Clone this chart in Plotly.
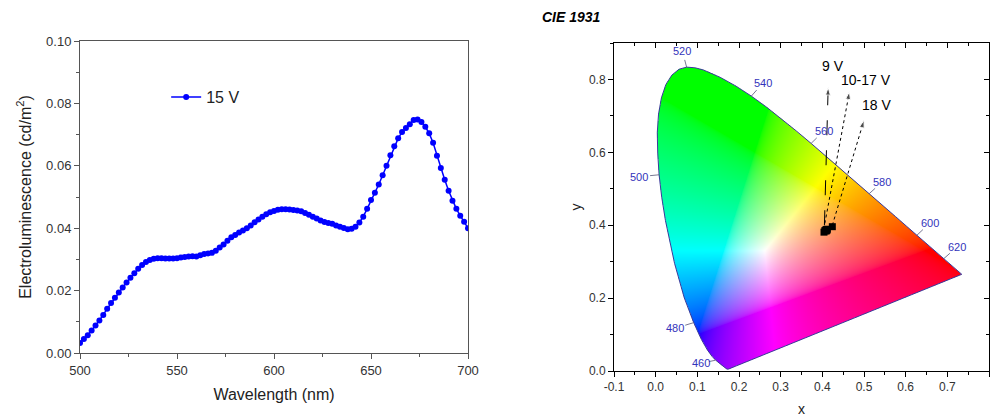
import base64, struct, zlib
import numpy as np
import plotly.graph_objects as go

# ---------------- data: EL spectrum (15 V) ----------------
wavelength = list(range(500, 701, 2))
el_15v = [0.0032, 0.0045, 0.0057, 0.0072, 0.0088, 0.0104, 0.0122, 0.0142, 0.0160, 0.0177,
          0.0194, 0.0210, 0.0226, 0.0241, 0.0256, 0.0270, 0.0282, 0.0292, 0.0298, 0.0302,
          0.0304, 0.0304, 0.0303, 0.0303, 0.0303, 0.0304, 0.0306, 0.0308, 0.0309, 0.0310,
          0.0309, 0.0313, 0.0317, 0.0319, 0.0321, 0.0328, 0.0338, 0.0348, 0.0360, 0.0371,
          0.0378, 0.0386, 0.0393, 0.0400, 0.0409, 0.0419, 0.0428, 0.0437, 0.0445, 0.0451,
          0.0455, 0.0459, 0.0461, 0.0461, 0.0460, 0.0458, 0.0457, 0.0454, 0.0449, 0.0443,
          0.0437, 0.0431, 0.0425, 0.0420, 0.0417, 0.0414, 0.0409, 0.0405, 0.0401, 0.0397,
          0.0398, 0.0405, 0.0418, 0.0437, 0.0462, 0.0490, 0.0514, 0.0540, 0.0570, 0.0600,
          0.0634, 0.0663, 0.0688, 0.0708, 0.0721, 0.0733, 0.0747, 0.0748, 0.0740, 0.0725,
          0.0704, 0.0674, 0.0632, 0.0593, 0.0555, 0.0520, 0.0488, 0.0462, 0.0440, 0.0421,
          0.0400]

# ---------------- data: CIE 1931 spectral locus ----------------
locus_nm = [380, 400, 420, 430, 440, 450, 455, 460, 465, 470, 475, 480, 485, 490, 495, 497.5,
            500, 502.5, 505, 507.5, 510, 512.5, 515, 517.5, 520, 522.5, 525, 527.5, 530, 535,
            540, 545, 550, 555, 560, 565, 570, 575, 580, 585, 590, 595, 600, 605, 610, 620,
            630, 640, 650, 660, 680, 700]
locus_x = [0.1741, 0.1733, 0.1714, 0.1689, 0.1644, 0.1566, 0.1510, 0.1440, 0.1355, 0.1241,
           0.1096, 0.0913, 0.0687, 0.0454, 0.0235, 0.0145, 0.0082, 0.0049, 0.0039, 0.0069,
           0.0139, 0.0245, 0.0389, 0.0560, 0.0743, 0.0943, 0.1142, 0.1345, 0.1547, 0.1929,
           0.2296, 0.2658, 0.3016, 0.3373, 0.3731, 0.4087, 0.4441, 0.4788, 0.5125, 0.5448,
           0.5752, 0.6029, 0.6270, 0.6482, 0.6658, 0.6915, 0.7079, 0.7190, 0.7260, 0.7300,
           0.7334, 0.7347]
locus_y = [0.0050, 0.0048, 0.0051, 0.0069, 0.0109, 0.0177, 0.0227, 0.0297, 0.0399, 0.0578,
           0.0868, 0.1327, 0.2007, 0.2950, 0.4127, 0.4770, 0.5384, 0.5980, 0.6548, 0.7050,
           0.7502, 0.7860, 0.8120, 0.8280, 0.8338, 0.8320, 0.8262, 0.8170, 0.8059, 0.7816,
           0.7543, 0.7243, 0.6923, 0.6589, 0.6245, 0.5896, 0.5547, 0.5202, 0.4866, 0.4544,
           0.4242, 0.3965, 0.3725, 0.3514, 0.3340, 0.3083, 0.2920, 0.2809, 0.2740, 0.2700,
           0.2666, 0.2653]

# wavelength labels on the locus
label_text = ["460", "480", "500", "520", "540", "560", "580", "600", "620"]
label_tick_x = [0.1440, 0.0913, 0.0082, 0.0743, 0.2296, 0.3731, 0.5125, 0.6270, 0.6915]
label_tick_y = [0.0297, 0.1327, 0.5384, 0.8338, 0.7543, 0.6245, 0.4866, 0.3725, 0.3083]
label_x = [0.108, 0.046, -0.040, 0.064, 0.258, 0.403, 0.544, 0.659, 0.724]
label_y = [0.021, 0.117, 0.533, 0.878, 0.791, 0.658, 0.519, 0.407, 0.341]

# axis ticks of the CIE panel
cie_xticks = [-0.1, 0.0, 0.1, 0.2, 0.3, 0.4, 0.5, 0.6, 0.7, 0.8]
cie_xtick_text = ["-0.1", "0.0", "0.1", "0.2", "0.3", "0.4", "0.5", "0.6", "0.7", "0.8"]
cie_yticks = [0.0, 0.2, 0.4, 0.6, 0.8]

# measured colour coordinates
cie_pts_x = [0.404, 0.406, 0.408, 0.409, 0.410, 0.411, 0.412, 0.424]
cie_pts_y = [0.381, 0.385, 0.387, 0.384, 0.388, 0.386, 0.389, 0.396]

# voltage arrows: start (x0,y0) -> tip (x1,y1)
arrow_labels = ["9 V", "10-17 V", "18 V"]
arrow_x0 = [0.405, 0.406, 0.424]
arrow_y0 = [0.400, 0.405, 0.400]
arrow_x1 = [0.414, 0.465, 0.500]
arrow_y1 = [0.778, 0.766, 0.688]
arrow_dash = ["longdash", "dot", "dot"]
arrow_text_x = [0.426, 0.504, 0.530]
arrow_text_y = [0.837, 0.798, 0.731]

FONT = "Arial, Liberation Sans, sans-serif"

# ---------------- chromaticity background image ----------------
def inside_poly(px, py, vx, vy):
    res = np.zeros(px.shape, dtype=bool)
    n = len(vx)
    j = n - 1
    for i in range(n):
        yi, yj, xi, xj = vy[i], vy[j], vx[i], vx[j]
        cond = ((yi > py) != (yj > py))
        xint = (xj - xi) * (py - yi) / ((yj - yi) if yj != yi else 1e-12) + xi
        res ^= cond & (px < xint)
        j = i
    return res

NX, NY = 540, 540
gx = -0.1 + (np.arange(NX) + 0.5) * 0.9 / NX
gy = 0.9 - (np.arange(NY) + 0.5) * 0.9 / NY
PX, PY = np.meshgrid(gx, gy)
mask = inside_poly(PX, PY, np.array(locus_x), np.array(locus_y))

prim = np.array([[0.645, 0.330], [0.238, 0.600], [0.100, 0.100]])  # R, G, B anchors
white = np.array([0.262, 0.330])
T = np.array([[prim[0, 0] - prim[2, 0], prim[1, 0] - prim[2, 0]],
              [prim[0, 1] - prim[2, 1], prim[1, 1] - prim[2, 1]]])
Ti = np.linalg.inv(T)

def bary(x, y):
    dx = x - prim[2, 0]
    dy = y - prim[2, 1]
    a = Ti[0, 0] * dx + Ti[0, 1] * dy
    b = Ti[1, 0] * dx + Ti[1, 1] * dy
    return a, b, 1 - a - b

wa, wb, wc = bary(white[0], white[1])
a, b, c = bary(PX, PY)
rgb = np.stack([a / wa, b / wb, c / wc], axis=-1)
rgb = np.clip(rgb, 0, None)
rgb = rgb / np.maximum(rgb.max(axis=-1, keepdims=True), 1e-9)
rgb = rgb ** (1 / 2.0)
img = np.zeros((NY, NX, 4), dtype=np.uint8)
img[..., :3] = (rgb * 255).astype(np.uint8)
img[..., 3] = np.where(mask, 255, 0).astype(np.uint8)

def to_png(arr):
    h, w = arr.shape[:2]
    raw = b"".join(b"\x00" + arr[r].tobytes() for r in range(h))
    def chunk(tag, data):
        return struct.pack(">I", len(data)) + tag + data + struct.pack(">I", zlib.crc32(tag + data) & 0xffffffff)
    return (b"\x89PNG\r\n\x1a\n" + chunk(b"IHDR", struct.pack(">IIBBBBB", w, h, 8, 6, 0, 0, 0))
            + chunk(b"IDAT", zlib.compress(raw, 9)) + chunk(b"IEND", b""))

png_uri = "data:image/png;base64," + base64.b64encode(to_png(img)).decode()

# ---------------- figure ----------------
fig = go.Figure()

fig.add_trace(go.Scatter(
    x=wavelength, y=el_15v, mode="lines+markers", name="15 V",
    line=dict(color="#0000ff", width=1.5),
    marker=dict(color="#0000ff", size=6),
    xaxis="x", yaxis="y", showlegend=True))

# locus outline (closed by purple line)
fig.add_trace(go.Scatter(
    x=locus_x + [locus_x[0]], y=locus_y + [locus_y[0]], mode="lines",
    line=dict(color="#3a3a9a", width=1), xaxis="x2", yaxis="y2",
    showlegend=False, hoverinfo="skip"))

# wavelength label tick lines
for tx, ty, lx, ly in zip(label_tick_x, label_tick_y, label_x, label_y):
    mx = tx + (lx - tx) * 0.45
    my = ty + (ly - ty) * 0.45
    fig.add_trace(go.Scatter(x=[tx, mx], y=[ty, my], mode="lines",
                             line=dict(color="#555577", width=0.8),
                             xaxis="x2", yaxis="y2", showlegend=False, hoverinfo="skip"))

# arrows
for x0, y0, x1, y1, d in zip(arrow_x0, arrow_y0, arrow_x1, arrow_y1, arrow_dash):
    fig.add_trace(go.Scatter(
        x=[x0, x1], y=[y0, y1], mode="lines+markers",
        line=dict(color="black", width=1, dash=d),
        marker=dict(symbol=["circle", "arrow"], size=[0, 8], color="black", angleref="previous"),
        xaxis="x2", yaxis="y2", showlegend=False, hoverinfo="skip"))

# data points
fig.add_trace(go.Scatter(
    x=cie_pts_x, y=cie_pts_y, mode="markers",
    marker=dict(symbol="square", size=7, color="black"),
    xaxis="x2", yaxis="y2", showlegend=False))

# dummy for mirrored inner-tick axes
fig.add_trace(go.Scatter(x=[0.5], y=[0.5], xaxis="x3", yaxis="y3", mode="markers",
                         marker=dict(size=1, opacity=0),
                         showlegend=False, hoverinfo="skip"))

annotations = []
for t, lx, ly in zip(label_text, label_x, label_y):
    annotations.append(dict(x=lx, y=ly, xref="x2", yref="y2", text=t, showarrow=False,
                            font=dict(family=FONT, size=11, color="#3333bb")))
for t, tx, ty in zip(arrow_labels, arrow_text_x, arrow_text_y):
    annotations.append(dict(x=tx, y=ty, xref="x2", yref="y2", text=t, showarrow=False,
                            font=dict(family=FONT, size=14, color="black")))
annotations.append(dict(x=540 / 995, y=1 - 17 / 417, xref="paper", yref="paper",
                        xanchor="left", yanchor="middle", showarrow=False,
                        text="<b><i>CIE 1931</i></b>",
                        font=dict(family=FONT, size=14, color="black")))

axis_common = dict(showgrid=False, zeroline=False, showline=True, mirror=True,
                   ticks="outside", ticklen=5, tickwidth=1, automargin=False)

fig.update_layout(
    width=995, height=417, margin=dict(l=0, r=0, t=0, b=0, autoexpand=False),
    paper_bgcolor="white", plot_bgcolor="rgba(0,0,0,0)",
    font=dict(family=FONT, color="#222"),
    showlegend=True,
    legend=dict(x=0.167, y=1 - 97 / 417, xanchor="left", yanchor="middle",
                bgcolor="rgba(0,0,0,0)", font=dict(family=FONT, size=16, color="#222")),
    xaxis=dict(domain=[80 / 995, 468 / 995], range=[500, 700], tickvals=[500, 550, 600, 650, 700],
               linecolor="#555", tickcolor="#555", anchor="y",
               tickfont=dict(family=FONT, size=13, color="#333"),
               minor=dict(dtick=25, ticks="outside", ticklen=3, tickcolor="#555"),
               title=dict(text="Wavelength (nm)", font=dict(family=FONT, size=16, color="#222"), standoff=12),
               **axis_common),
    yaxis=dict(domain=[1 - 353 / 417, 1 - 41 / 417], range=[0, 0.1], dtick=0.02, tickformat=".2f",
               linecolor="#555", tickcolor="#555", anchor="x",
               tickfont=dict(family=FONT, size=13, color="#333"),
               minor=dict(dtick=0.01, ticks="outside", ticklen=3, tickcolor="#555"),
               title=dict(text="Electroluminescence (cd/m<sup>2</sup>)",
                          font=dict(family=FONT, size=16, color="#222"), standoff=10),
               **axis_common),
    xaxis2=dict(domain=[614 / 995, 989 / 995], range=[-0.1, 0.8],
                tickvals=cie_xticks, ticktext=cie_xtick_text,
                linecolor="black", tickcolor="black", anchor="y2",
                tickfont=dict(family=FONT, size=12, color="#333"),
                minor=dict(dtick=0.05, tick0=0, ticks="outside", ticklen=3, tickcolor="black"),
                title=dict(text="x", font=dict(family=FONT, size=14, color="#222"), standoff=14),
                **axis_common),
    yaxis2=dict(domain=[1 - 371 / 417, 1 - 43 / 417], range=[0, 0.9], tickvals=cie_yticks,
                tickformat=".1f", linecolor="black", tickcolor="black", anchor="x2",
                tickfont=dict(family=FONT, size=12, color="#333"),
                minor=dict(dtick=0.1, tick0=0, ticks="outside", ticklen=3, tickcolor="black"),
                title=dict(text="y", font=dict(family=FONT, size=14, color="#222"), standoff=4),
                **axis_common),
    xaxis3=dict(overlaying="x2", side="top", anchor="y3", range=[-0.1, 0.8], dtick=0.1, tick0=0,
                ticks="inside", ticklen=5, tickcolor="black", showticklabels=False,
                showgrid=False, zeroline=False, showline=False, automargin=False,
                minor=dict(dtick=0.05, ticks="inside", ticklen=3, tickcolor="black")),
    yaxis3=dict(overlaying="y2", side="right", anchor="x3", range=[0, 0.9], dtick=0.2,
                ticks="inside", ticklen=5, tickcolor="black", showticklabels=False,
                showgrid=False, zeroline=False, showline=False, automargin=False,
                minor=dict(dtick=0.1, ticks="inside", ticklen=3, tickcolor="black")),
    annotations=annotations,
    images=[dict(source=png_uri, xref="x2", yref="y2", x=-0.1, y=0.9, sizex=0.9, sizey=0.9,
                 sizing="stretch", xanchor="left", yanchor="top", layer="below")],
)

fig.write_html("out.html", config={"displayModeBar": False},
               post_script="document.body.style.margin='0';document.body.style.overflow='hidden';")
